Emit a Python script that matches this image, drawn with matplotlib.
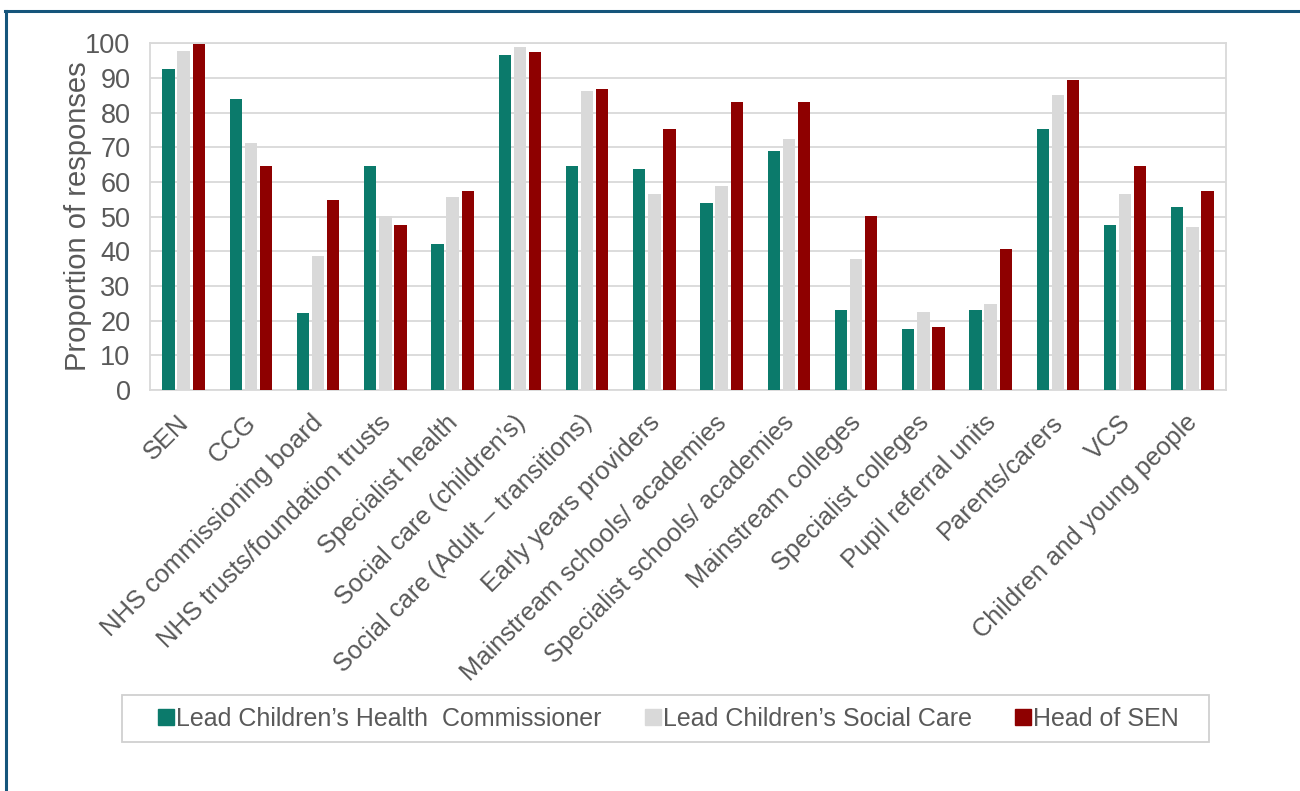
import matplotlib
matplotlib.use("Agg")
import matplotlib.pyplot as plt
import numpy as np
from matplotlib.lines import Line2D
from matplotlib.patches import Rectangle
from matplotlib.transforms import ScaledTranslation

plt.rcParams['font.family'] = ['Liberation Sans', 'DejaVu Sans']

categories = ["SEN", "CCG", "NHS commissioning board", "NHS trusts/foundation trusts",
              "Specialist health", "Social care (children\u2019s)",
              "Social care (Adult \u2013 transitions)", "Early years providers",
              "Mainstream schools/ academies", "Specialist schools/ academies",
              "Mainstream colleges", "Specialist colleges", "Pupil referral units",
              "Parents/carers", "VCS", "Children and young people"]

health = [92.6, 84.0, 22.2, 64.5, 42.2, 96.5, 64.5, 63.6, 53.8, 68.9, 23.1, 17.7, 23.1, 75.2, 47.5, 52.9]
social = [97.9, 71.2, 38.7, 50.2, 55.6, 98.8, 86.3, 56.4, 58.7, 72.5, 37.8, 22.6, 24.9, 85.0, 56.4, 47.1]
sen = [99.8, 64.5, 54.7, 47.5, 57.4, 97.4, 86.7, 75.2, 83.2, 83.2, 50.2, 18.3, 40.6, 89.5, 64.5, 57.4]

series_names = ["Lead Children\u2019s Health  Commissioner", "Lead Children\u2019s Social Care", "Head of SEN"]
colors = ["#0B7A6B", "#D9D9D9", "#8E0000"]
yticks = list(range(0, 101, 10))

fig = plt.figure(figsize=(13, 7.91), dpi=100)
ax = fig.add_axes([150/1300, 1-390/791, (1226-150)/1300, (390-43.3)/791])

x = np.arange(len(categories))
w = 0.185
step = 0.225
for i, (vals, c) in enumerate(zip([health, social, sen], colors)):
    ax.bar(x + (i-1)*step, vals, width=w, color=c, zorder=3)

ax.set_xlim(-0.5, len(categories)-0.5)
ax.set_ylim(0, 100)
ax.set_yticks(yticks)
ax.yaxis.grid(True, color="#D9D9D9", linewidth=1.3, zorder=0)
for s in ax.spines.values():
    s.set_color("#D9D9D9")
    s.set_linewidth(1.3)
ax.tick_params(axis='y', length=0, colors="#595959", labelsize=19.5, pad=14)
ax.tick_params(axis='x', length=0, colors="#595959", labelsize=18.4, pad=9)
ax.set_xticks(x)
ax.set_xticklabels(categories, rotation=45, ha='right', rotation_mode='anchor')
offset = ScaledTranslation(-0.07, -0.08, fig.dpi_scale_trans)
for lab in ax.get_xticklabels():
    lab.set_transform(lab.get_transform() + offset)
ax.set_ylabel("Proportion of responses", fontsize=21, color="#595959", labelpad=-5)

handles = [Line2D([0], [0], marker='s', linestyle='none', markersize=11,
                  markerfacecolor=c, markeredgecolor=c) for c in colors]
leg = fig.legend(handles, series_names, loc='center', ncol=3,
                 bbox_to_anchor=(668.5/1300, 1-718.5/791), frameon=False,
                 fontsize=18, handlelength=0.6, handletextpad=0.1, columnspacing=1.75,
                 borderpad=0.2, labelcolor="#595959")
fig.add_artist(Rectangle((122/1300, 1-742/791), (1209-122)/1300, 47/791,
                         transform=fig.transFigure, facecolor='none',
                         edgecolor="#D0D0D0", linewidth=1.3))

# outer border lines (left and top)
fig.add_artist(Line2D([6/1300, 6/1300], [0, 1-10.5/791], transform=fig.transFigure,
                      color="#15557B", linewidth=2.2))
fig.add_artist(Line2D([5/1300, 1], [1-10.5/791, 1-10.5/791], transform=fig.transFigure,
                      color="#15557B", linewidth=2.2))

fig.savefig("out.png", dpi=100)
